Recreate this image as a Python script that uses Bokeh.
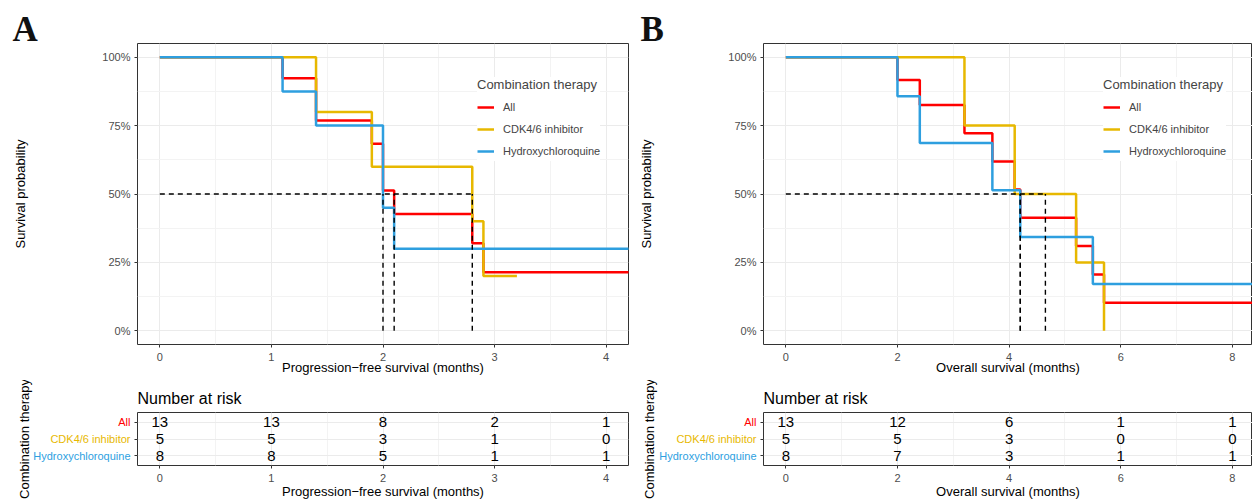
from bokeh.plotting import figure
from bokeh.models import (Range1d, FixedTicker, NumeralTickFormatter, Legend,
                          LegendItem, ColumnDataSource)
from bokeh.layouts import row, column
from bokeh.core.properties import value
from bokeh.embed import file_html
from bokeh.resources import INLINE

FONT = "Liberation Sans"
SERIF = "Liberation Serif"

group_names = ["All", "CDK4/6 inhibitor", "Hydroxychloroquine"]
group_colors = ["#FF0000", "#E7B800", "#2E9FDF"]

# ---- Panel A: progression-free survival ----
pfs_all_time = [0, 1.1, 1.4, 1.9, 2.0, 2.1, 2.8, 2.9, 4.5]
pfs_all_surv = [1.0, 0.923, 0.769, 0.684, 0.513, 0.427, 0.320, 0.214, 0.214]
pfs_cdk_time = [0, 1.4, 1.9, 2.8, 2.9, 3.2]
pfs_cdk_surv = [1.0, 0.80, 0.60, 0.40, 0.20, 0.20]
pfs_hcq_time = [0, 1.1, 1.4, 2.0, 2.1, 4.5]
pfs_hcq_surv = [1.0, 0.875, 0.75, 0.45, 0.30, 0.30]
pfs_medians = [2.1, 2.8, 2.0]
pfs_ticks = [0, 1, 2, 3, 4]
pfs_minor = [0.5, 1.5, 2.5, 3.5]
pfs_risk_all = [13, 13, 8, 2, 1]
pfs_risk_cdk = [5, 5, 3, 1, 0]
pfs_risk_hcq = [8, 8, 5, 1, 1]

# ---- Panel B: overall survival ----
os_all_time = [0, 2.0, 2.4, 3.2, 3.7, 4.1, 4.2, 5.2, 5.5, 5.7, 8.8]
os_all_surv = [1.0, 0.917, 0.825, 0.722, 0.619, 0.516, 0.413, 0.310, 0.206, 0.103, 0.103]
os_cdk_time = [0, 3.2, 4.1, 5.2, 5.7]
os_cdk_surv = [1.0, 0.75, 0.50, 0.25, 0.0]
os_hcq_time = [0, 2.0, 2.4, 3.7, 4.2, 5.5, 8.8]
os_hcq_surv = [1.0, 0.857, 0.686, 0.514, 0.343, 0.171, 0.171]
os_medians = [4.2, 4.65, 4.2]
os_ticks = [0, 2, 4, 6, 8]
os_minor = [1, 3, 5, 7]
os_risk_all = [13, 12, 6, 1, 1]
os_risk_cdk = [5, 5, 3, 0, 0]
os_risk_hcq = [8, 7, 3, 1, 1]

y_ticks = [0, 0.25, 0.5, 0.75, 1.0]
y_minor = [0.125, 0.375, 0.625, 0.875]
risk_levels = [3, 2, 1]

BORDER = "#333333"
GRID = "#EBEBEB"
GRID_MINOR = "#F3F3F3"
TICKLAB = "#4D4D4D"

MAIN_H, MAIN_TOP, MAIN_BOT = 380, 43, 36
RISK_H, RISK_TOP, RISK_BOT = 121, 32, 34
MAIN_YR = (-0.05, 1.05)
RISK_YR = (0.4, 3.6)
RISK_MBL = 6


def style_axes(p):
    for ax in p.axis:
        ax.axis_line_color = None
        ax.major_tick_line_color = BORDER
        ax.major_tick_line_width = 1
        ax.major_tick_out = 3
        ax.major_tick_in = 0
        ax.minor_tick_line_color = None
        ax.major_label_text_font = FONT
        ax.major_label_text_font_size = "11px"
        ax.major_label_text_color = TICKLAB
        ax.axis_label_text_font = FONT
        ax.axis_label_text_font_size = "13px"
        ax.axis_label_text_font_style = "normal"
        ax.axis_label_text_color = "black"
    p.outline_line_color = BORDER
    p.outline_line_width = 1


def make_main(xr, ticks, minor, xlabel, series, medians, width, mbl, mbr,
              letter, letter_dx):
    p = figure(width=width, height=MAIN_H, x_range=Range1d(*xr),
               y_range=Range1d(*MAIN_YR), output_backend="svg",
               toolbar_location=None, min_border_left=mbl, min_border_right=mbr,
               min_border_top=MAIN_TOP, min_border_bottom=MAIN_BOT,
               title=letter)
    style_axes(p)
    p.title.align = "left"
    p.title.offset = letter_dx
    p.title.standoff = -10
    p.title.text_font = SERIF
    p.title.text_font_size = "35px"
    p.title.text_font_style = "bold"
    p.title.text_color = "#111111"

    p.xaxis.ticker = FixedTicker(ticks=ticks, minor_ticks=minor)
    p.yaxis.ticker = FixedTicker(ticks=y_ticks, minor_ticks=y_minor)
    p.yaxis.formatter = NumeralTickFormatter(format="0%")
    p.xgrid.grid_line_color = GRID
    p.ygrid.grid_line_color = GRID
    p.xgrid.minor_grid_line_color = GRID_MINOR
    p.ygrid.minor_grid_line_color = GRID_MINOR
    p.xaxis.axis_label = xlabel
    p.xaxis.major_label_standoff = 4
    p.xaxis.axis_label_standoff = -4
    p.yaxis.axis_label = "Survival probability"
    p.yaxis.major_label_standoff = 3
    p.yaxis.axis_label_standoff = 71

    rends = []
    for (t, s), c in zip(series, group_colors):
        rends.append(p.step(t, s, mode="after", line_color=c, line_width=2.5))

    p.segment(x0=[0], y0=[0.5], x1=[max(medians)], y1=[0.5],
              line_color="black", line_width=1.4, line_dash="5 4")
    p.segment(x0=medians, y0=[0] * len(medians), x1=medians,
              y1=[0.5] * len(medians),
              line_color="black", line_width=1.4, line_dash="5 4")

    legend = Legend(items=[LegendItem(label=n, renderers=[r])
                           for n, r in zip(group_names, rends)],
                    location=(340, 183), title="Combination therapy")
    legend.title_text_font = FONT
    legend.title_text_font_size = "13px"
    legend.title_text_font_style = "normal"
    legend.title_standoff = 5
    legend.label_text_font = FONT
    legend.label_text_font_size = "11px"
    legend.glyph_width = 17
    legend.glyph_height = 20
    legend.label_height = 20
    legend.label_standoff = 9
    legend.spacing = 2
    legend.padding = 10
    legend.margin = 0
    legend.border_line_color = None
    legend.background_fill_color = "white"
    legend.background_fill_alpha = 1.0
    p.add_layout(legend)
    return p


def make_risk(main, ticks, minor, xlabel, counts, width, mbr):
    p = figure(width=width, height=RISK_H, x_range=main.x_range,
               y_range=Range1d(*RISK_YR), output_backend="svg",
               toolbar_location=None, min_border_left=RISK_MBL,
               min_border_right=mbr, min_border_top=RISK_TOP,
               min_border_bottom=RISK_BOT, title="Number at risk")
    style_axes(p)
    p.title.align = "left"
    p.title.text_font = FONT
    p.title.text_font_size = "16px"
    p.title.text_font_style = "normal"
    p.title.text_color = "black"
    p.title.standoff = 12
    p.xaxis.ticker = FixedTicker(ticks=ticks, minor_ticks=minor)
    p.yaxis.ticker = FixedTicker(ticks=risk_levels)
    p.yaxis.major_label_overrides = {lv: "" for lv in risk_levels}
    p.yaxis.major_label_standoff = 0
    p.xgrid.grid_line_color = GRID
    p.xgrid.minor_grid_line_color = GRID_MINOR
    p.ygrid.grid_line_color = GRID
    p.xaxis.axis_label = xlabel
    p.xaxis.major_label_standoff = 4
    p.xaxis.axis_label_standoff = -1

    xs, ys, ts = [], [], []
    for level, cnt in zip(risk_levels, counts):
        xs += list(ticks)
        ys += [level] * len(ticks)
        ts += [str(v) for v in cnt]
    src = ColumnDataSource(dict(x=xs, y=ys, t=ts))
    p.text(x="x", y="y", text="t", source=src, text_align="center",
           text_baseline="middle", text_font=value(FONT),
           text_font_size="15px", text_color="black")
    return p


def risk_labels(width, mbl):
    """Strip left of the risk table: coloured group names + rotated title.
    x is measured in px relative to the risk-table frame's left edge."""
    p = figure(width=width, height=RISK_H,
               x_range=Range1d(-(width - mbl) - RISK_MBL, -RISK_MBL),
               y_range=Range1d(*RISK_YR), output_backend="svg",
               toolbar_location=None, min_border_left=mbl,
               min_border_right=0, min_border_top=RISK_TOP,
               min_border_bottom=RISK_BOT, x_axis_location=None)
    p.outline_line_color = None
    p.grid.visible = False
    ax = p.yaxis[0]
    ax.ticker = FixedTicker(ticks=[])
    ax.axis_line_color = None
    ax.major_tick_line_color = None
    ax.minor_tick_line_color = None
    ax.major_tick_out = 0
    ax.major_label_standoff = 0
    ax.axis_label = "Combination therapy"
    ax.axis_label_standoff = 0
    ax.axis_label_text_font = FONT
    ax.axis_label_text_font_size = "13px"
    ax.axis_label_text_font_style = "normal"
    ax.axis_label_text_color = "black"
    p.text(x=[-7] * 3, y=risk_levels, text=group_names,
           text_color=group_colors, text_align="right",
           text_baseline="middle", text_font=value(FONT),
           text_font_size="11px")
    return p


# Panel A  (canvas 0..634, frame 137..628)
fA = make_main((-0.2, 4.2), pfs_ticks, pfs_minor,
               "Progression\u2212free survival (months)",
               [(pfs_all_time, pfs_all_surv), (pfs_cdk_time, pfs_cdk_surv),
                (pfs_hcq_time, pfs_hcq_surv)], pfs_medians, 634, 137, 6,
               "A", -125)
LAr = risk_labels(131, 31)
rA = make_risk(fA, pfs_ticks, pfs_minor,
               "Progression\u2212free survival (months)",
               [pfs_risk_all, pfs_risk_cdk, pfs_risk_hcq], 503, 6)

# Panel B  (canvas 634..1252, frame 763..1252)
fB = make_main((-0.4, 8.36), os_ticks, os_minor, "Overall survival (months)",
               [(os_all_time, os_all_surv), (os_cdk_time, os_cdk_surv),
                (os_hcq_time, os_hcq_surv)], os_medians, 618, 129, 0,
               "B", -123)
LBr = risk_labels(123, 22)
rB = make_risk(fB, os_ticks, os_minor, "Overall survival (months)",
               [os_risk_all, os_risk_cdk, os_risk_hcq], 495, 0)

layout = column(row(fA, fB), row(LAr, rA, LBr, rB))

open("out.html", "w").write(file_html(layout, INLINE))
